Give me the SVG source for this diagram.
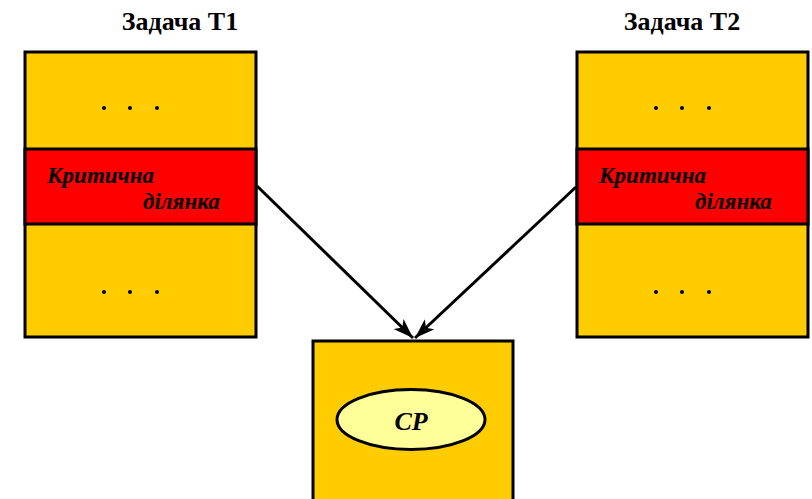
<svg xmlns="http://www.w3.org/2000/svg" width="812" height="499" viewBox="0 0 812 499">
<style>
.box{fill:#FFCC00;stroke:#000;stroke-width:3}
.red{fill:#FF0000;stroke:#000;stroke-width:3}
.title{font-family:"Liberation Serif",serif;font-weight:bold;font-size:26px;fill:#000;text-anchor:middle}
.crit{font-family:"Liberation Serif",serif;font-weight:bold;font-style:italic;font-size:23px;fill:#000}
.dot{fill:#000}
.conn{stroke:#000;stroke-width:3;fill:none}
</style>
<defs>
<marker id="arrh" viewBox="0 0 20 14" refX="20" refY="7" markerWidth="20" markerHeight="14" markerUnits="userSpaceOnUse" orient="auto">
<path d="M0,0 L20,7 L0,14 L5,7 Z" fill="#000"/>
</marker>
</defs>
<g id="task1">
<text class="title" x="180" y="30">Задача Т1</text>
<rect class="box" x="25" y="52" width="231" height="285"/>
<rect class="red" x="25" y="149" width="231" height="75"/>
<circle class="dot" cx="104" cy="108" r="2"/><circle class="dot" cx="130" cy="108" r="2"/><circle class="dot" cx="157" cy="108" r="2"/>
<circle class="dot" cx="104" cy="292" r="2"/><circle class="dot" cx="130" cy="292" r="2"/><circle class="dot" cx="157" cy="292" r="2"/>
<text class="crit" x="47" y="183">Критична</text>
<text class="crit" x="143" y="209">ділянка</text>
</g>
<g id="task2">
<text class="title" x="682" y="30">Задача Т2</text>
<rect class="box" x="577" y="52" width="231" height="285"/>
<rect class="red" x="577" y="149" width="231" height="75"/>
<circle class="dot" cx="656" cy="108" r="2"/><circle class="dot" cx="682" cy="108" r="2"/><circle class="dot" cx="709" cy="108" r="2"/>
<circle class="dot" cx="656" cy="292" r="2"/><circle class="dot" cx="682" cy="292" r="2"/><circle class="dot" cx="709" cy="292" r="2"/>
<text class="crit" x="599" y="183">Критична</text>
<text class="crit" x="695" y="209">ділянка</text>
</g>
<g id="resource">
<rect class="box" x="313" y="341" width="200" height="170"/>
<ellipse cx="411" cy="419.5" rx="74" ry="30" fill="#FFFF99" stroke="#000" stroke-width="3"/>
<text x="411" y="430" font-family="Liberation Serif,serif" font-weight="bold" font-style="italic" font-size="26" text-anchor="middle">CP</text>
</g>
<g id="connectors">
<line class="conn" x1="257" y1="186" x2="413" y2="338" marker-end="url(#arrh)"/>
<line class="conn" x1="576" y1="187" x2="415" y2="338" marker-end="url(#arrh)"/>
</g>
</svg>
